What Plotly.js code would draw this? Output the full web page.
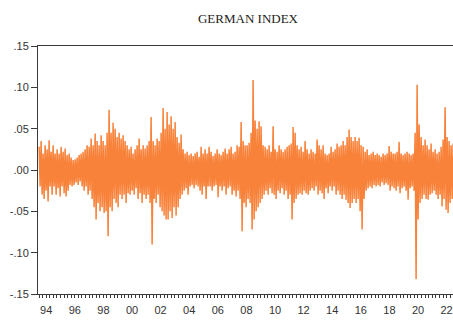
<!DOCTYPE html>
<html>
<head>
<meta charset="utf-8">
<script src="https://cdn.plot.ly/plotly-3.0.1.min.js"></script>
<style>
  html, body { margin: 0; padding: 0; overflow: hidden; background: #ffffff; }
</style>
</head>
<body>
<div id="chart"></div>
<script>
// Daily returns of the German stock index, summarised as the highest and
// lowest return inside each successive window of trading days.
const seriesTitle = 'GERMAN INDEX';
const firstObs = '1994-01-03';
const windowDays = 25.54;

const windowHigh = [
  0.028, 0.035, 0.020, 0.030, 0.025, 0.036, 0.022, 0.030, 0.020, 0.025,
  0.020, 0.028, 0.022, 0.026, 0.018, 0.020, 0.015, 0.012, 0.013, 0.015,
  0.018, 0.020, 0.022, 0.025, 0.030, 0.028, 0.038, 0.030, 0.044, 0.035,
  0.030, 0.042, 0.035, 0.030, 0.045,
  0.073, 0.045, 0.057, 0.050, 0.040, 0.045, 0.038, 0.042, 0.035, 0.030,
  0.025, 0.028, 0.020, 0.025, 0.030, 0.038, 0.025, 0.030, 0.026, 0.030,
  0.035, 0.064, 0.035, 0.030, 0.038, 0.035, 0.045, 0.075, 0.050, 0.070,
  0.055, 0.065, 0.050, 0.058,
  0.040, 0.033, 0.043, 0.025, 0.020, 0.022, 0.018, 0.020, 0.017, 0.020,
  0.022, 0.016, 0.028, 0.020, 0.025, 0.020, 0.028, 0.022, 0.017, 0.020,
  0.025, 0.020, 0.018, 0.022, 0.026, 0.020, 0.025, 0.028, 0.020, 0.022,
  0.030, 0.028, 0.058, 0.035, 0.030,
  0.030, 0.033, 0.045, 0.109, 0.060, 0.050, 0.059, 0.053, 0.030, 0.028,
  0.025, 0.030, 0.022, 0.053, 0.025, 0.022, 0.030, 0.025, 0.022, 0.025,
  0.028, 0.030, 0.032, 0.052, 0.045, 0.030, 0.025, 0.028, 0.022, 0.035,
  0.025, 0.020, 0.025, 0.022, 0.020,
  0.037, 0.030, 0.025, 0.030, 0.020, 0.018, 0.020, 0.028, 0.022, 0.025,
  0.032, 0.028, 0.030, 0.035, 0.030, 0.040, 0.049, 0.040, 0.035, 0.040,
  0.035, 0.039, 0.030, 0.028, 0.022, 0.025, 0.018, 0.020, 0.022, 0.018,
  0.020, 0.018, 0.016, 0.020, 0.018,
  0.020, 0.029, 0.022, 0.020, 0.020, 0.022, 0.034, 0.020, 0.018, 0.020,
  0.022, 0.020, 0.018, 0.020, 0.045, 0.103, 0.055, 0.040, 0.030, 0.037,
  0.030, 0.025, 0.032, 0.022, 0.025, 0.020, 0.022, 0.028, 0.037, 0.076,
  0.040, 0.035, 0.030, 0.032, 0.030, 0.028
];

const windowLow = [
  -0.020, -0.030, -0.035, -0.025, -0.038, -0.020, -0.030, -0.020, -0.030, -0.022,
  -0.032, -0.020, -0.028, -0.032, -0.025, -0.018, -0.020, -0.018, -0.015, -0.018,
  -0.014, -0.020, -0.025, -0.020, -0.030, -0.025, -0.035, -0.045, -0.060, -0.040,
  -0.050, -0.045, -0.052, -0.050, -0.080,
  -0.045, -0.050, -0.035, -0.040, -0.045, -0.030, -0.035, -0.030, -0.040, -0.028,
  -0.030, -0.025, -0.030, -0.022, -0.035, -0.028, -0.040, -0.030, -0.035, -0.030,
  -0.040, -0.090, -0.035, -0.040, -0.030, -0.045, -0.050, -0.055, -0.060, -0.060,
  -0.050, -0.058, -0.045, -0.055,
  -0.045, -0.035, -0.030, -0.025, -0.022, -0.030, -0.020, -0.018, -0.022, -0.018,
  -0.020, -0.025, -0.030, -0.020, -0.035, -0.020, -0.020, -0.025, -0.020, -0.018,
  -0.033, -0.020, -0.025, -0.020, -0.030, -0.022, -0.020, -0.030, -0.025, -0.032,
  -0.025, -0.035, -0.074, -0.040, -0.045,
  -0.035, -0.040, -0.072, -0.060, -0.050, -0.045, -0.040, -0.035, -0.030, -0.025,
  -0.030, -0.022, -0.028, -0.030, -0.035, -0.025, -0.028, -0.022, -0.030, -0.025,
  -0.035, -0.030, -0.060, -0.040, -0.035, -0.030, -0.028, -0.030, -0.025, -0.028,
  -0.030, -0.025, -0.022, -0.025, -0.020,
  -0.030, -0.025, -0.028, -0.035, -0.022, -0.028, -0.020, -0.025, -0.020, -0.030,
  -0.025, -0.030, -0.035, -0.030, -0.036, -0.040, -0.046, -0.040, -0.035, -0.040,
  -0.035, -0.050, -0.072, -0.035, -0.025, -0.022, -0.020, -0.022, -0.018, -0.020,
  -0.018, -0.020, -0.015, -0.018, -0.016,
  -0.018, -0.025, -0.020, -0.022, -0.025, -0.020, -0.028, -0.022, -0.020, -0.025,
  -0.036, -0.022, -0.020, -0.025, -0.132, -0.060, -0.040, -0.035, -0.030, -0.035,
  -0.036, -0.030, -0.028, -0.025, -0.030, -0.035, -0.030, -0.044, -0.035, -0.048,
  -0.052, -0.040, -0.035, -0.040, -0.035, -0.030
];

const yTickVals = [0.15, 0.10, 0.05, 0.00, -0.05, -0.10, -0.15];
const yTickText = ['.15', '.10', '.05', '.00', '-.05', '-.10', '-.15'];
const xLabelYears = [1994, 1996, 1998, 2000, 2002, 2004, 2006, 2008, 2010, 2012, 2014, 2016, 2018, 2020, 2022];
const xLabelText = ['94', '96', '98', '00', '02', '04', '06', '08', '10', '12', '14', '16', '18', '20', '22'];

function isoDate(ms) {
  return new Date(ms).toISOString().slice(0, 10);
}

// Interleave each window's high and low so the path sweeps the full range.
const start = Date.parse(firstObs + 'T00:00:00Z');
const dayMs = 86400000;
const xs = [];
const ys = [];
for (let i = 0; i < windowHigh.length; i++) {
  xs.push(isoDate(start + (2 * i) * windowDays * dayMs));
  ys.push(windowHigh[i]);
  xs.push(isoDate(start + (2 * i + 1) * windowDays * dayMs));
  ys.push(windowLow[i]);
}

// Labels sit mid-year; small ticks mark every quarter.
const labelDates = xLabelYears.map(y => y + '-07-02');
const quarterTicks = [];
for (let y = 1994; y <= 2023; y++) {
  for (const m of ['01', '04', '07', '10']) quarterTicks.push(y + '-' + m + '-01');
}

const axisColor = '#3a3a3a';
const tickFont = { family: 'Liberation Sans, Arial, sans-serif', size: 11, color: '#333333' };

const trace = {
  type: 'scatter',
  mode: 'lines',
  x: xs,
  y: ys,
  line: { color: '#f8823a', width: 1.5 },
  hoverinfo: 'skip'
};

const layout = {
  width: 462,
  height: 320,
  margin: { l: 38, r: 4, t: 46, b: 26 },
  paper_bgcolor: '#ffffff',
  plot_bgcolor: '#ffffff',
  showlegend: false,
  title: {
    text: seriesTitle,
    font: { family: 'Liberation Serif, Times New Roman, serif', size: 13, color: '#222222' },
    x: 0.5,
    xref: 'paper',
    y: 1 - 18 / 320,
    yref: 'container',
    yanchor: 'middle'
  },
  xaxis: {
    type: 'date',
    range: ['1993-12-05', '2023-04-19'],
    showgrid: false,
    zeroline: false,
    showline: true,
    mirror: true,
    linecolor: axisColor,
    linewidth: 1,
    tickmode: 'array',
    tickvals: labelDates,
    ticktext: xLabelText,
    ticks: 'outside',
    ticklen: 6,
    tickcolor: 'rgba(0,0,0,0)',
    tickfont: tickFont,
    minor: {
      tickmode: 'array',
      tickvals: quarterTicks,
      ticks: 'outside',
      ticklen: 3,
      tickcolor: axisColor,
      tickwidth: 1,
      showgrid: false
    }
  },
  yaxis: {
    range: [-0.15, 0.15],
    showgrid: false,
    zeroline: false,
    showline: true,
    mirror: true,
    linecolor: axisColor,
    linewidth: 1,
    tickmode: 'array',
    tickvals: yTickVals,
    ticktext: yTickText,
    ticks: 'outside',
    ticklen: 6,
    tickcolor: axisColor,
    tickfont: tickFont
  }
};

Plotly.newPlot('chart', [trace], layout, { staticPlot: true, displayModeBar: false });
</script>
</body>
</html>
